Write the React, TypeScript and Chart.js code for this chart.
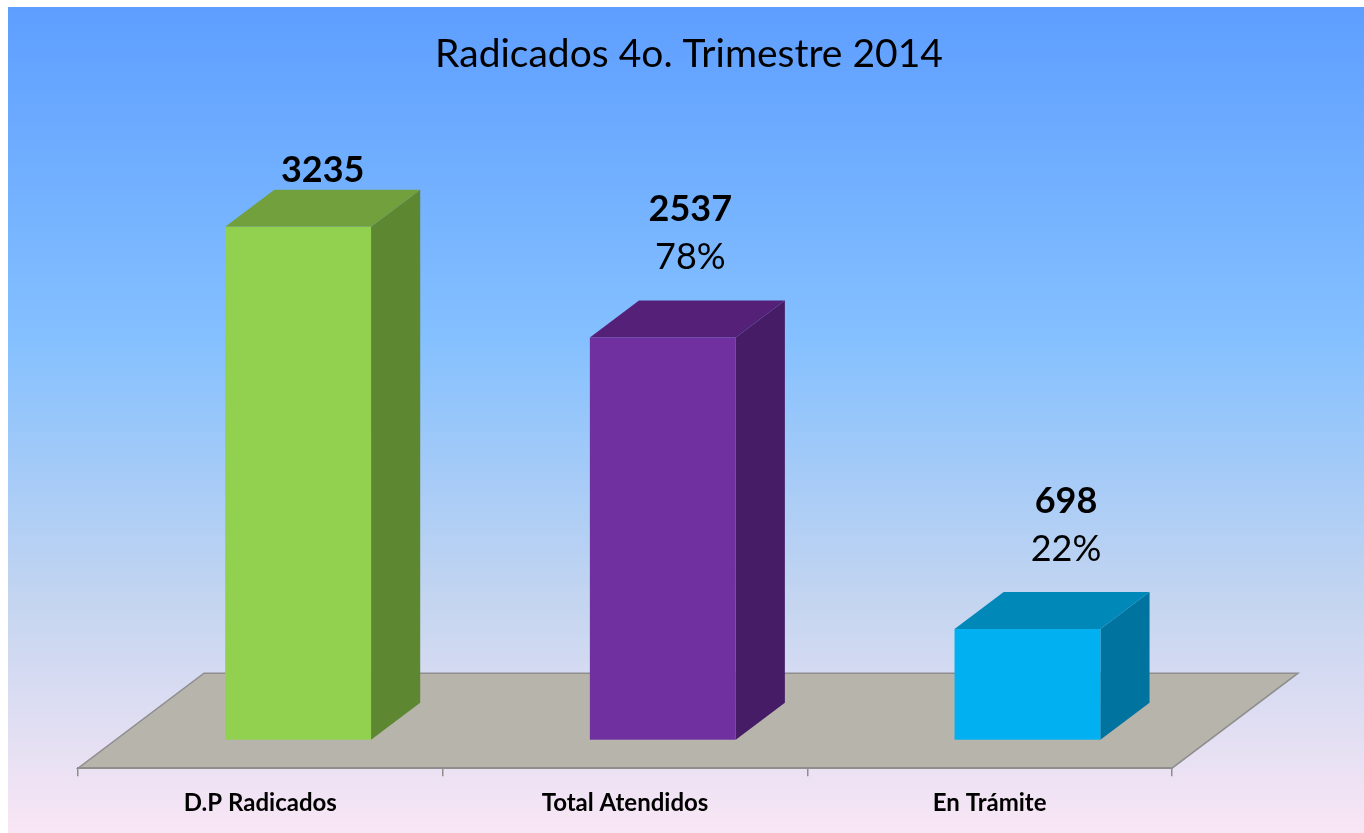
import React, { useEffect, useRef } from 'react';
import { Chart, registerables } from 'chart.js';

Chart.register(...registerables);

const titleText = 'Radicados 4o. Trimestre 2014';
const categories = ['D.P Radicados', 'Total Atendidos', 'En Trámite'];
const values = [3235, 2537, 698];
const percentLabels = ['', '78%', '22%'];
const frontColors = ['#92D050', '#7030A0', '#00B0F0'];
const topColors = ['#71A03C', '#552178', '#0088B8'];
const sideColors = ['#5E8732', '#461C66', '#00739E'];
const yMax = 4000;

const FONT = 'Lato, "Open Sans", sans-serif';

const box3dPlugin = {
  id: 'box3d',
  beforeDraw(chart: any, _args: any, opts: any) {
    const { ctx, chartArea } = chart;
    const w = chart.width;
    const h = chart.height;
    ctx.save();
    const g = ctx.createLinearGradient(0, 0, 0, h);
    g.addColorStop(0, '#5E9EFF');
    g.addColorStop(0.4, '#84C0FF');
    g.addColorStop(0.72, '#C4D5F0');
    g.addColorStop(1, '#F9E6F5');
    ctx.fillStyle = g;
    ctx.fillRect(0, 0, w, h);

    const yScale = chart.scales.y;
    const y0 = yScale.getPixelForValue(0);
    const L = chartArea.left;
    const R = chartArea.right;
    const dx = opts.depthX;
    const dy = opts.depthY;
    ctx.beginPath();
    ctx.moveTo(L, y0);
    ctx.lineTo(R, y0);
    ctx.lineTo(R + dx, y0 + dy);
    ctx.lineTo(L + dx, y0 + dy);
    ctx.closePath();
    ctx.fillStyle = '#B7B4AC';
    ctx.fill();
    ctx.strokeStyle = '#8E8E8E';
    ctx.lineWidth = 1.5;
    ctx.stroke();

    // chart title, centred on the whole picture
    ctx.fillStyle = '#000';
    ctx.font = `normal 39px ${FONT}`;
    ctx.textAlign = 'center';
    ctx.textBaseline = 'alphabetic';
    ctx.fillText(titleText, w / 2 + 3, 60);
    ctx.restore();
  },
  afterDatasetsDraw(chart: any, _args: any, opts: any) {
    const { ctx } = chart;
    const meta = chart.getDatasetMeta(0);
    const Dx = opts.depthX;
    const Dy = opts.depthY;
    const Fx = Dx * opts.frontFrac;
    const Fy = Dy * opts.frontFrac;
    const Bx = Dx * opts.depthFrac;
    const By = Dy * opts.depthFrac;
    ctx.save();
    meta.data.forEach((el: any, i: number) => {
      const props = el.getProps(['x', 'y', 'base', 'width'], true);
      const left = props.x - props.width / 2 + Fx;
      const right = props.x + props.width / 2 + Fx;
      const top = props.y + Fy;
      const bottom = props.base + Fy;
      // side
      ctx.beginPath();
      ctx.moveTo(right, top);
      ctx.lineTo(right + Bx, top + By);
      ctx.lineTo(right + Bx, bottom + By);
      ctx.lineTo(right, bottom);
      ctx.closePath();
      ctx.fillStyle = sideColors[i];
      ctx.fill();
      // top
      ctx.beginPath();
      ctx.moveTo(left, top);
      ctx.lineTo(right, top);
      ctx.lineTo(right + Bx, top + By);
      ctx.lineTo(left + Bx, top + By);
      ctx.closePath();
      ctx.fillStyle = topColors[i];
      ctx.fill();
      // front
      ctx.fillStyle = frontColors[i];
      ctx.fillRect(left, top, right - left, bottom - top);

      // labels
      const cx = props.x + Fx + Bx / 2 + (opts.labelDx[i] || 0);
      const backTop = top + By;
      ctx.fillStyle = '#000';
      ctx.textAlign = 'center';
      ctx.textBaseline = 'alphabetic';
      const pct = percentLabels[i];
      if (pct) {
        const pctBase = backTop - 31;
        ctx.font = `normal 36px ${FONT}`;
        ctx.fillText(pct, cx, pctBase);
        ctx.font = `bold 36px ${FONT}`;
        ctx.fillText(String(values[i]), cx, pctBase - 48);
      } else {
        ctx.font = `bold 36px ${FONT}`;
        ctx.fillText(String(values[i]), cx, backTop - 8);
      }
    });
    ctx.restore();
  },
};

export default function App() {
  const ref = useRef<HTMLCanvasElement | null>(null);
  useEffect(() => {
    if (!ref.current) return;
    const chart = new Chart(ref.current, {
      type: 'bar',
      data: {
        labels: categories,
        datasets: [
          {
            data: values,
            backgroundColor: 'rgba(0,0,0,0)',
            borderWidth: 0,
            barPercentage: 0.4,
            categoryPercentage: 1,
          },
        ],
      },
      options: {
        responsive: false,
        animation: false,
        devicePixelRatio: 1,
        layout: { padding: { left: 70, right: 192, top: 127, bottom: 2 } },
        plugins: {
          legend: { display: false },
          tooltip: { enabled: false },
          title: { display: false },
          box3d: {
            depthX: 126,
            depthY: -95,
            frontFrac: 0.3,
            depthFrac: 0.39,
            labelDx: [0, 3, 14],
          },
        } as any,
        scales: {
          x: {
            offset: true,
            grid: {
              display: true,
              offset: true,
              drawOnChartArea: false,
              drawTicks: true,
              tickLength: 8,
              color: '#8E8E8E',
              lineWidth: 1.5,
            },
            border: { display: true, color: '#8E8E8E', width: 2 },
            ticks: {
              color: '#000',
              padding: 13,
              font: { family: FONT, size: 24, weight: 'bold' },
              maxRotation: 0,
            },
          },
          y: {
            display: false,
            min: 0,
            max: yMax,
          },
        },
      },
      plugins: [box3dPlugin],
    });
    return () => chart.destroy();
  }, []);
  return (
    <div style={{ position: 'absolute', left: 8, top: 7, width: 1356, height: 826 }}>
      <canvas ref={ref} width={1356} height={826} />
    </div>
  );
}
